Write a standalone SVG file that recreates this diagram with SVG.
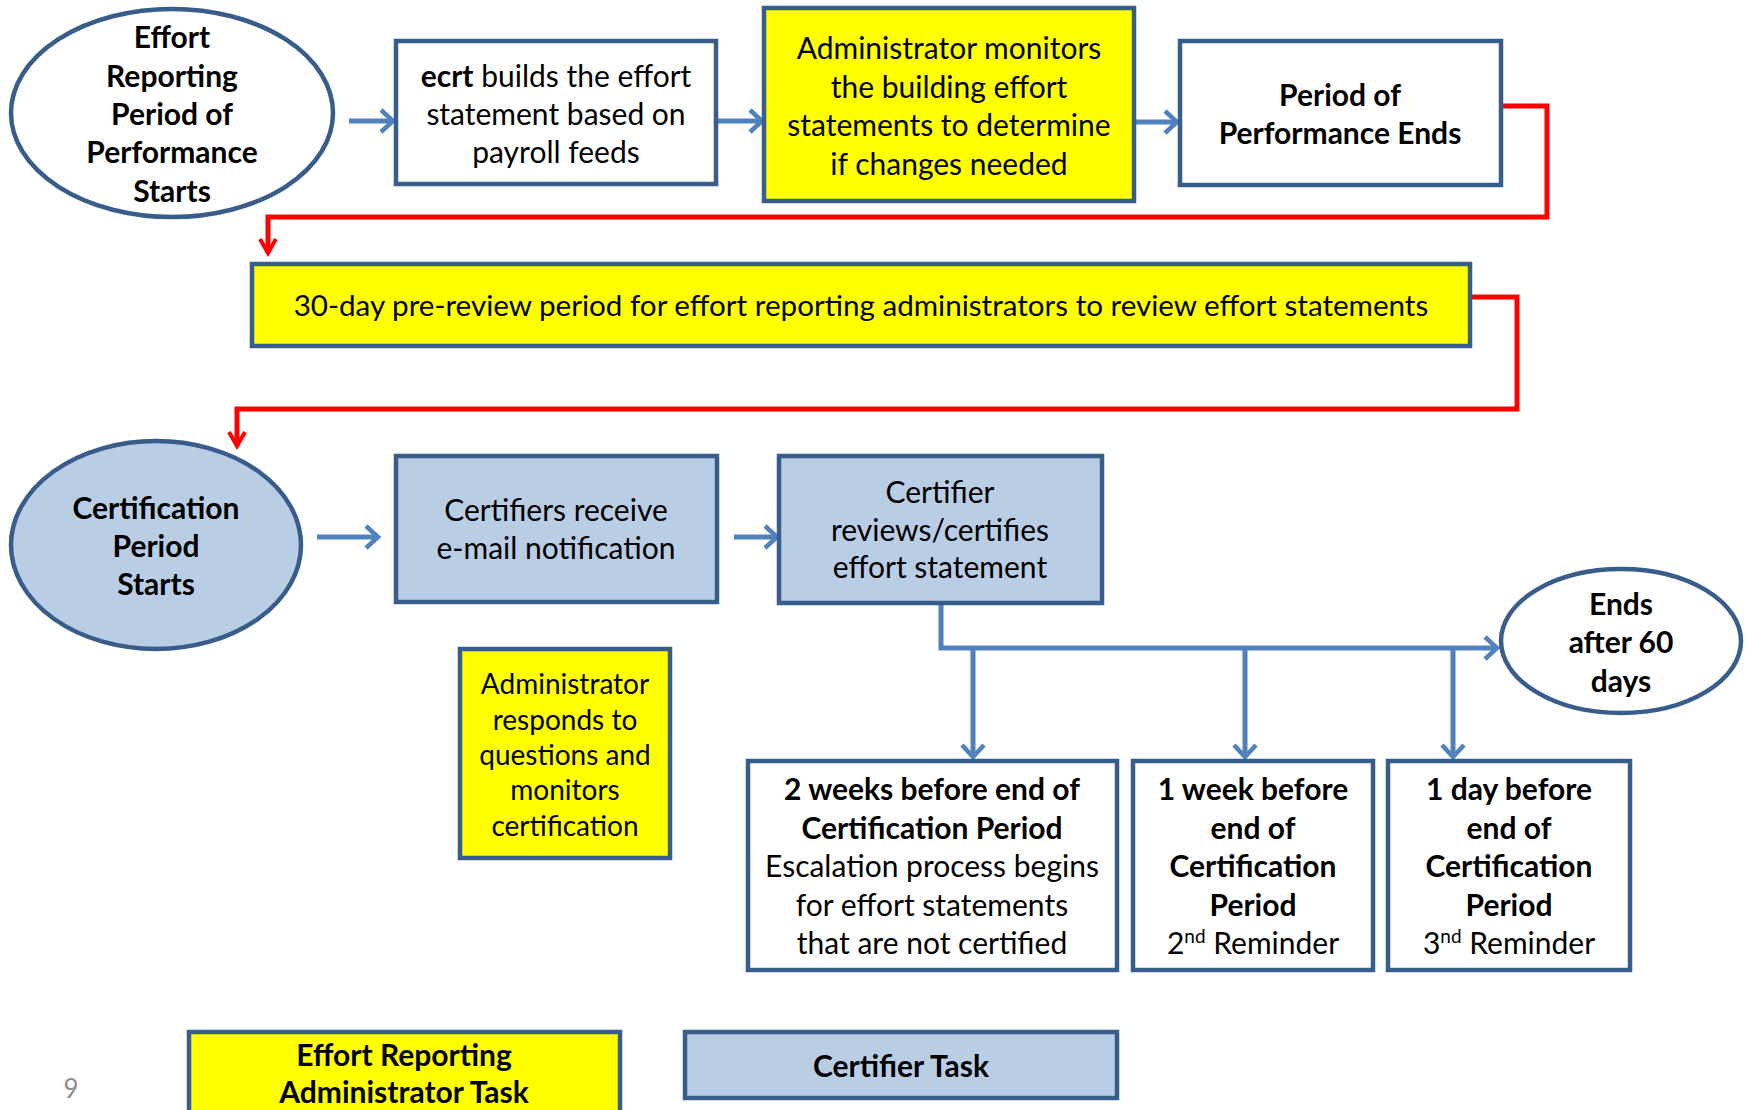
<svg xmlns="http://www.w3.org/2000/svg" width="1748" height="1110" viewBox="0 0 1748 1110">
<style>
text{font-family:Lato,"Open Sans","Liberation Sans",sans-serif;font-size:30px;fill:#000;text-anchor:middle}
.b{font-weight:bold}
.s{font-size:28px}
.node{stroke:#385D8A;stroke-width:4.5}
.w{fill:#fff}
.y{fill:#FFFF00}
.bl{fill:#B9CDE5}
.arr{fill:none;stroke:#4F81BD;stroke-width:5}
.red{fill:none;stroke:#FF0000;stroke-width:5}
</style>
<defs>
<marker id="ab" markerUnits="userSpaceOnUse" viewBox="-16 -14 20 28" markerWidth="20" markerHeight="28" refX="0" refY="0" orient="auto" overflow="visible">
<path d="M-12,-11 L0,0 L-12,11" fill="none" stroke="#4F81BD" stroke-width="4.5"/>
</marker>
<marker id="ar" markerUnits="userSpaceOnUse" viewBox="-16 -14 20 28" markerWidth="20" markerHeight="28" refX="0" refY="0" orient="auto" overflow="visible">
<path d="M-14,-8 L0,0 L-14,8" fill="none" stroke="#FF0000" stroke-width="4"/>
</marker>
</defs>
<rect width="1748" height="1110" fill="#fff"/>
<g id="connectors">
<line class="arr" x1="349" y1="121" x2="393" y2="121" marker-end="url(#ab)"/>
<line class="arr" x1="717" y1="121" x2="762" y2="121" marker-end="url(#ab)"/>
<line class="arr" x1="1135" y1="122" x2="1177" y2="122" marker-end="url(#ab)"/>
<path class="red" d="M1502,106 H1547 V217 H268 V253" marker-end="url(#ar)"/>
<path class="red" d="M1471,297 H1517 V409 H237 V446" marker-end="url(#ar)"/>
<line class="arr" x1="317" y1="537" x2="378" y2="537" marker-end="url(#ab)"/>
<line class="arr" x1="734" y1="537" x2="777" y2="537" marker-end="url(#ab)"/>
<path class="arr" d="M941,603 V648 H1497" marker-end="url(#ab)"/>
<line class="arr" x1="973" y1="648" x2="973" y2="757" marker-end="url(#ab)"/>
<line class="arr" x1="1245" y1="648" x2="1245" y2="757" marker-end="url(#ab)"/>
<line class="arr" x1="1453" y1="648" x2="1453" y2="757" marker-end="url(#ab)"/>
</g>
<g id="n1">
<ellipse class="node w" cx="172" cy="113" rx="161" ry="104"/>
<text class="b" x="172" y="48">Effort</text>
<text class="b" x="172" y="87">Reporting</text>
<text class="b" x="172" y="125">Period of</text>
<text class="b" x="172" y="163">Performance</text>
<text class="b" x="172" y="202">Starts</text>
</g>
<g id="n2">
<rect class="node w" x="396" y="41" width="320" height="143"/>
<text x="556" y="87"><tspan class="b">ecrt</tspan> builds the effort</text>
<text x="556" y="125">statement based on</text>
<text x="556" y="163">payroll feeds</text>
</g>
<g id="n3">
<rect class="node y" x="764" y="8" width="370" height="193"/>
<text x="949" y="59">Administrator monitors</text>
<text x="949" y="98">the building effort</text>
<text x="949" y="136">statements to determine</text>
<text x="949" y="175">if changes needed</text>
</g>
<g id="n4">
<rect class="node w" x="1180" y="41" width="321" height="144"/>
<text class="b" x="1340" y="106">Period of</text>
<text class="b" x="1340" y="144">Performance Ends</text>
</g>
<g id="n5">
<rect class="node y" x="252" y="264" width="1218" height="82"/>
<text x="861" y="316" style="font-size:29.6px">30-day pre-review period for effort reporting administrators to review effort statements</text>
</g>
<g id="n6">
<ellipse class="node bl" cx="156" cy="545" rx="145" ry="104"/>
<text class="b" x="156" y="519">Certification</text>
<text class="b" x="156" y="557">Period</text>
<text class="b" x="156" y="595">Starts</text>
</g>
<g id="n7">
<rect class="node bl" x="396" y="456" width="321" height="146"/>
<text x="556" y="521">Certifiers receive</text>
<text x="556" y="559">e-mail notification</text>
</g>
<g id="n8">
<rect class="node bl" x="779" y="456" width="323" height="147"/>
<text x="940" y="503">Certifier</text>
<text x="940" y="541">reviews/certifies</text>
<text x="940" y="578">effort statement</text>
</g>
<g id="n9">
<ellipse class="node w" cx="1621" cy="641" rx="120" ry="72"/>
<text class="b" x="1621" y="615">Ends</text>
<text class="b" x="1621" y="653">after 60</text>
<text class="b" x="1621" y="692">days</text>
</g>
<g id="n10">
<rect class="node y" x="460" y="649" width="210" height="209"/>
<text class="s" x="565" y="694">Administrator</text>
<text class="s" x="565" y="730">responds to</text>
<text class="s" x="565" y="765">questions and</text>
<text class="s" x="565" y="800">monitors</text>
<text class="s" x="565" y="836">certification</text>
</g>
<g id="n11">
<rect class="node w" x="748" y="761" width="369" height="209"/>
<text class="b" x="932" y="800">2 weeks before end of</text>
<text class="b" x="932" y="839">Certification Period</text>
<text x="932" y="877">Escalation process begins</text>
<text x="932" y="916">for effort statements</text>
<text x="932" y="954">that are not certified</text>
</g>
<g id="n12">
<rect class="node w" x="1133" y="761" width="240" height="209"/>
<text class="b" x="1253" y="800">1 week before</text>
<text class="b" x="1253" y="839">end of</text>
<text class="b" x="1253" y="877">Certification</text>
<text class="b" x="1253" y="916">Period</text>
<text x="1253" y="954">2<tspan font-size="19" dy="-11">nd</tspan><tspan dy="11"> Reminder</tspan></text>
</g>
<g id="n13">
<rect class="node w" x="1388" y="761" width="242" height="209"/>
<text class="b" x="1509" y="800">1 day before</text>
<text class="b" x="1509" y="839">end of</text>
<text class="b" x="1509" y="877">Certification</text>
<text class="b" x="1509" y="916">Period</text>
<text x="1509" y="954">3<tspan font-size="19" dy="-11">nd</tspan><tspan dy="11"> Reminder</tspan></text>
</g>
<g id="legend1">
<rect class="node y" x="189" y="1032" width="431" height="90"/>
<text class="b" x="404" y="1066">Effort Reporting</text>
<text class="b" x="404" y="1103">Administrator Task</text>
</g>
<g id="legend2">
<rect class="node bl" x="685" y="1032" width="432" height="66"/>
<text class="b" x="901" y="1077">Certifier Task</text>
</g>
<text x="71" y="1098" style="fill:#8C8C8C;font-size:26px">9</text>
</svg>
